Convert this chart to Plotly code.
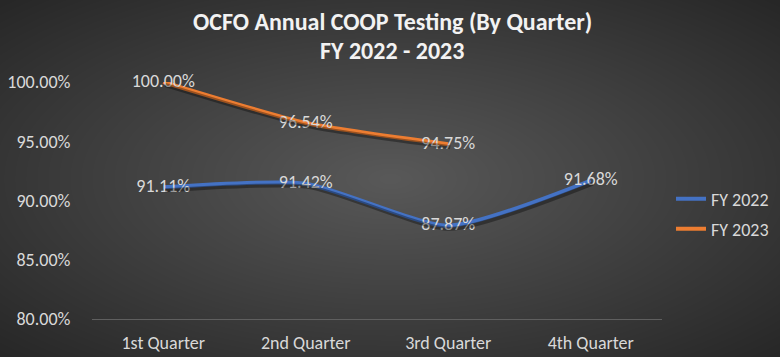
import zlib, struct, base64
import numpy as np
import plotly.graph_objects as go

# ---- data ----
quarters = ["1st Quarter", "2nd Quarter", "3rd Quarter", "4th Quarter"]
fy2022 = [91.11, 91.42, 87.87, 91.68]
fy2023 = [100.00, 96.54, 94.75, None]
series_names = ["FY 2022", "FY 2023"]
title_lines = ["OCFO Annual COOP Testing (By Quarter)", "FY 2022 - 2023"]
y_ticks = [80, 85, 90, 95, 100]

W, H = 780, 357
L, R, T, B = 92, 118, 82, 38
PW, PH = W - L - R, H - T - B

# ---- radial gradient background ----
yy, xx = np.mgrid[0:H, 0:W].astype(float)
cx, cy = W * 0.5, H * 0.5
d = np.sqrt(((xx - cx) / (W / 2)) ** 2 + ((yy - cy) / (H / 2)) ** 2) / np.sqrt(2)
d = np.clip(d, 0, 1)
g = (0x59 + (0x27 - 0x59) * d).astype(np.uint8)
arr = np.stack([g, g, g], axis=-1)
raw = b"".join(b"\x00" + arr[i].tobytes() for i in range(H))
def chunk(tag, data):
    return struct.pack(">I", len(data)) + tag + data + struct.pack(">I", zlib.crc32(tag + data) & 0xFFFFFFFF)
png = (b"\x89PNG\r\n\x1a\n" + chunk(b"IHDR", struct.pack(">IIBBBBB", W, H, 8, 2, 0, 0, 0))
       + chunk(b"IDAT", zlib.compress(raw, 9)) + chunk(b"IEND", b""))
bg_uri = "data:image/png;base64," + base64.b64encode(png).decode()

FONT = "Carlito, Lato, sans-serif"
LBL = "#d9d9d9"
FS = 18
colors = ["#4472C4", "#ED7D31"]
fig = go.Figure()

# shadows
for vals, name in zip([fy2022, fy2023], series_names):
    fig.add_trace(go.Scatter(
        x=quarters, y=vals, mode="lines", xaxis="x2", yaxis="y2",
        line=dict(color="rgba(0,0,0,0.35)", width=4, shape="spline", smoothing=0.6),
        showlegend=False, hoverinfo="skip", cliponaxis=False))

for vals, name, c, lg in zip([fy2022, fy2023], series_names, colors, ["legend", "legend2"]):
    fig.add_trace(go.Scatter(
        x=quarters, y=vals, mode="lines+text", name=name, legend=lg,
        text=[f"{v:.2f}%" if v is not None else "" for v in vals],
        textposition="middle center",
        textfont=dict(family=FONT, size=FS, color=LBL),
        line=dict(color=c, width=4, shape="spline", smoothing=0.6),
        cliponaxis=False))

sx = 2 * 4 / PW      # 2px in category units
sy = 3 * 20 / PH     # 3px in y units

title_ann = [
    dict(text="<b>" + t + "</b>", xref="paper", yref="paper",
         x=(392 - L) / PW, y=1 + (T - yc) / PH, xanchor="center", yanchor="middle",
         showarrow=False, font=dict(family=FONT, size=24, color="#f2f2f2"))
    for t, yc in zip(title_lines, [21, 50])
]

fig.update_layout(
    width=W, height=H,
    margin=dict(l=L, r=R, t=T, b=B, autoexpand=False),
    paper_bgcolor="#2b2b2b", plot_bgcolor="rgba(0,0,0,0)",
    annotations=title_ann,
    xaxis=dict(type="category", range=[-0.5, 3.5], showgrid=False, zeroline=False,
               showline=True, linecolor="#5f5f5f", linewidth=1,
               ticks="outside", ticklen=7, tickcolor="rgba(0,0,0,0)",
               tickfont=dict(family=FONT, size=FS, color=LBL)),
    yaxis=dict(range=[80, 100], tickvals=y_ticks,
               ticktext=[f"{v:.2f}%" for v in y_ticks],
               showgrid=False, zeroline=False, showline=False,
               ticks="outside", ticklen=17, tickcolor="rgba(0,0,0,0)",
               tickfont=dict(family=FONT, size=FS, color=LBL)),
    xaxis2=dict(type="category", range=[-0.5 - sx, 3.5 - sx], overlaying="x",
                visible=False, anchor="y2"),
    yaxis2=dict(range=[80 + sy, 100 + sy], overlaying="y", visible=False, anchor="x2"),
    legend=dict(x=(671 - L) / PW, y=1 - (199 - T) / PH, xanchor="left", yanchor="middle",
                bgcolor="rgba(0,0,0,0)", itemwidth=30,
                font=dict(family=FONT, size=FS, color=LBL)),
    legend2=dict(x=(671 - L) / PW, y=1 - (229 - T) / PH, xanchor="left", yanchor="middle",
                 bgcolor="rgba(0,0,0,0)", itemwidth=30,
                 font=dict(family=FONT, size=FS, color=LBL)),
    images=[dict(source=bg_uri, xref="paper", yref="paper",
                 x=-L / PW, y=1 + T / PH, sizex=W / PW, sizey=H / PH,
                 xanchor="left", yanchor="top", sizing="stretch", layer="below")],
    showlegend=True,
)
fig.write_html("out.html", config={"displayModeBar": False},
               post_script="document.body.style.margin='0';")
